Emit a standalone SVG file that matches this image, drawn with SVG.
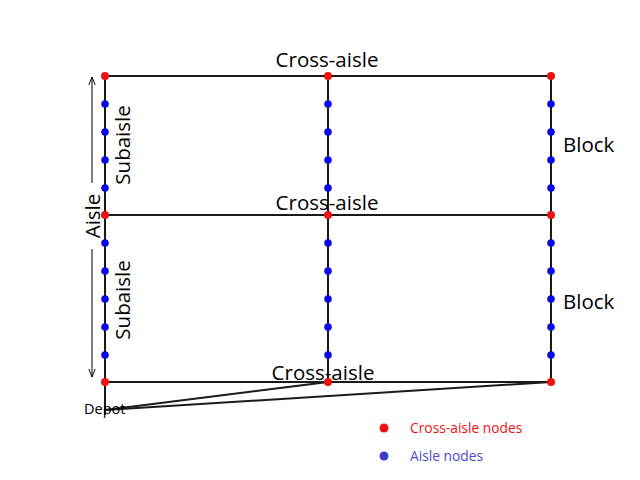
<svg xmlns="http://www.w3.org/2000/svg" width="640" height="480" viewBox="0 0 640 480">
<defs>
<style>
.ln{stroke:#1a1a1a;stroke-width:2;fill:none}
.ar{stroke:#000;stroke-width:1;fill:none}
.cn{fill:#ee1111}
.an{fill:#0a0ae6}
.lbl{font-family:"Open Sans","DejaVu Sans",sans-serif;font-size:20.5px;fill:#000}
</style>
<marker id="ah" viewBox="0 0 10 10" refX="10" refY="5" markerWidth="8" markerHeight="8" orient="auto-start-reverse" markerUnits="userSpaceOnUse">
<path d="M0,1 L10,5 L0,9" fill="none" stroke="#000" stroke-width="1.2"/>
</marker>
</defs>
<rect width="640" height="480" fill="#fff"/>
<g id="connectors">
<line class="ln" x1="105" y1="76" x2="551" y2="76"/>
<line class="ln" x1="105" y1="215" x2="551" y2="215"/>
<line class="ln" x1="105" y1="382" x2="551" y2="382"/>
<line class="ln" x1="105" y1="76" x2="105" y2="415"/>
<line class="ln" x1="328" y1="76" x2="328" y2="382"/>
<line class="ln" x1="551" y1="76" x2="551" y2="382"/>
<line class="ln" x1="105" y1="410" x2="328" y2="382"/>
<line class="ln" x1="105" y1="410" x2="551" y2="382"/>
<line class="ar" x1="92" y1="183" x2="92" y2="77" marker-end="url(#ah)"/>
<line class="ar" x1="92" y1="249" x2="92" y2="377" marker-end="url(#ah)"/>
</g>
<g id="cross-aisle-nodes">
<circle class="cn" cx="105" cy="76" r="4"/><circle class="cn" cx="328" cy="76" r="4"/><circle class="cn" cx="551" cy="76" r="4"/>
<circle class="cn" cx="105" cy="215" r="4"/><circle class="cn" cx="328" cy="215" r="4"/><circle class="cn" cx="551" cy="215" r="4"/>
<circle class="cn" cx="105" cy="382" r="4"/><circle class="cn" cx="328" cy="382" r="4"/><circle class="cn" cx="551" cy="382" r="4"/>
</g>
<g id="aisle-nodes-left">
<circle class="an" cx="105" cy="104" r="3.8"/><circle class="an" cx="105" cy="132" r="3.8"/><circle class="an" cx="105" cy="160" r="3.8"/><circle class="an" cx="105" cy="188" r="3.8"/>
<circle class="an" cx="105" cy="243" r="3.8"/><circle class="an" cx="105" cy="271" r="3.8"/><circle class="an" cx="105" cy="299" r="3.8"/><circle class="an" cx="105" cy="327" r="3.8"/><circle class="an" cx="105" cy="355" r="3.8"/>
</g>
<g id="aisle-nodes-middle">
<circle class="an" cx="328" cy="104" r="3.8"/><circle class="an" cx="328" cy="132" r="3.8"/><circle class="an" cx="328" cy="160" r="3.8"/><circle class="an" cx="328" cy="188" r="3.8"/>
<circle class="an" cx="328" cy="243" r="3.8"/><circle class="an" cx="328" cy="271" r="3.8"/><circle class="an" cx="328" cy="299" r="3.8"/><circle class="an" cx="328" cy="327" r="3.8"/><circle class="an" cx="328" cy="355" r="3.8"/>
</g>
<g id="aisle-nodes-right">
<circle class="an" cx="551" cy="104" r="3.8"/><circle class="an" cx="551" cy="132" r="3.8"/><circle class="an" cx="551" cy="160" r="3.8"/><circle class="an" cx="551" cy="188" r="3.8"/>
<circle class="an" cx="551" cy="243" r="3.8"/><circle class="an" cx="551" cy="271" r="3.8"/><circle class="an" cx="551" cy="299" r="3.8"/><circle class="an" cx="551" cy="327" r="3.8"/><circle class="an" cx="551" cy="355" r="3.8"/>
</g>
<g id="labels">
<text class="lbl" x="327" y="67" text-anchor="middle">Cross-aisle</text>
<text class="lbl" x="327" y="210" text-anchor="middle">Cross-aisle</text>
<text class="lbl" x="323" y="380" text-anchor="middle">Cross-aisle</text>
<text class="lbl" x="563" y="152">Block</text>
<text class="lbl" x="563" y="309">Block</text>
<text class="lbl" transform="translate(130,145) rotate(-90)" text-anchor="middle">Subaisle</text>
<text class="lbl" transform="translate(130,300) rotate(-90)" text-anchor="middle">Subaisle</text>
<text class="lbl" transform="translate(100,216) rotate(-90)" text-anchor="middle">Aisle</text>
<text x="84" y="414" font-family="'Open Sans','DejaVu Sans',sans-serif" font-size="14.5" fill="#000">Depot</text>
</g>
<g id="legend">
<circle cx="384" cy="428" r="4.5" fill="#ee1111"/>
<text x="410" y="433" font-family="'Open Sans','DejaVu Sans',sans-serif" font-size="13.8" fill="#ee1111">Cross-aisle nodes</text>
<circle cx="384" cy="456" r="4.5" fill="#3b3bcc"/>
<text x="410" y="461" font-family="'Open Sans','DejaVu Sans',sans-serif" font-size="13.8" fill="#4a4ad8">Aisle nodes</text>
</g>
</svg>
